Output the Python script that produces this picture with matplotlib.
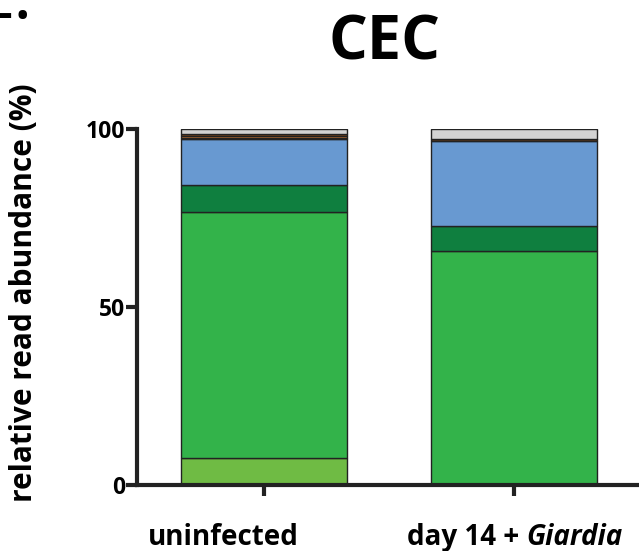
import numpy as np
import matplotlib.pyplot as plt

plt.rcParams['font.family'] = ['Open Sans', 'DejaVu Sans']

groups = ['uninfected', 'day 14 + ']
groups_italic = ['', 'Giardia']
# stacked segments, bottom to top (% of reads)
seg_colors = ['#6fbb44', '#33b34a', '#0f7f3f', '#6899d1', '#8b4a1c', '#e8883a', '#8b4a1c', '#d3d3d3']
seg_values = [
    [7.6, 0.0],    # light green
    [69.1, 65.7],  # green
    [7.6, 7.1],    # dark green
    [12.9, 23.9],  # blue
    [0.4, 0.4],    # brown
    [0.5, 0.0],    # orange
    [0.4, 0.0],    # brown
    [1.5, 2.9],    # grey
]

W, H = 639, 551
fig = plt.figure(figsize=(W / 100, H / 100), dpi=100)
ax = fig.add_axes([0.2144, 0.1198, 0.8185, 0.646])

x = np.arange(len(groups))
bottom = np.zeros(len(groups))
for vals, c in zip(seg_values, seg_colors):
    vals = np.array(vals)
    ax.bar(x, vals, bottom=bottom, width=0.665, color=c, edgecolor='#222222', linewidth=1.0)
    bottom += vals

ax.set_xlim(-0.509, 1.587)
ax.set_ylim(0, 100)
ax.set_yticks([0, 50, 100])
ax.set_yticklabels(['0', '50', '100'], fontsize=16.5, fontweight='bold')
ax.set_xticks(x)
ax.set_xticklabels([])
ax.tick_params(axis='both', width=3, length=8, color='#222222')
ax.tick_params(axis='y', pad=0.5)
for s in ['top', 'right']:
    ax.spines[s].set_visible(False)
for s in ['left', 'bottom']:
    ax.spines[s].set_linewidth(3)
    ax.spines[s].set_color('#222222')

# group labels below the axis (bold, with italic part)
fig.canvas.draw()
r = fig.canvas.get_renderer()
label_cx = [223, 515]
for cx, g, gi in zip(label_cx, groups, groups_italic):
    t1 = fig.text(0, 0, g, fontsize=20, fontweight='bold')
    w1 = t1.get_window_extent(r).width
    w2 = 0
    t2 = None
    if gi:
        t2 = fig.text(0, 0, gi, fontsize=20, fontweight='bold', style='italic')
        w2 = t2.get_window_extent(r).width
    x0 = cx - (w1 + w2) / 2
    y0 = 1 - 545 / H
    t1.set_position((x0 / W, y0))
    t1.set_va('baseline')
    if t2 is not None:
        t2.set_position(((x0 + w1) / W, y0))
        t2.set_va('baseline')

ax.set_ylabel('relative read abundance (%)', fontsize=21.5, fontweight='bold')
ax.yaxis.set_label_coords((39 - 137) / (0.8185 * W), (485 - 293) / 356)

fig.text(385 / W, 1 - 44 / H, 'CEC', fontsize=44, fontweight='bold', ha='center', va='center')
# cropped panel letter remnant at the top-left corner
fig.text(12 / W, 1 - 16 / H, '\u2013', fontsize=30, fontweight='bold', ha='right', va='center')
fig.text(22 / W, 1 - 17 / H, '\u2022', fontsize=22, fontweight='bold', ha='center', va='center')

fig.savefig('out.png', dpi=100)
